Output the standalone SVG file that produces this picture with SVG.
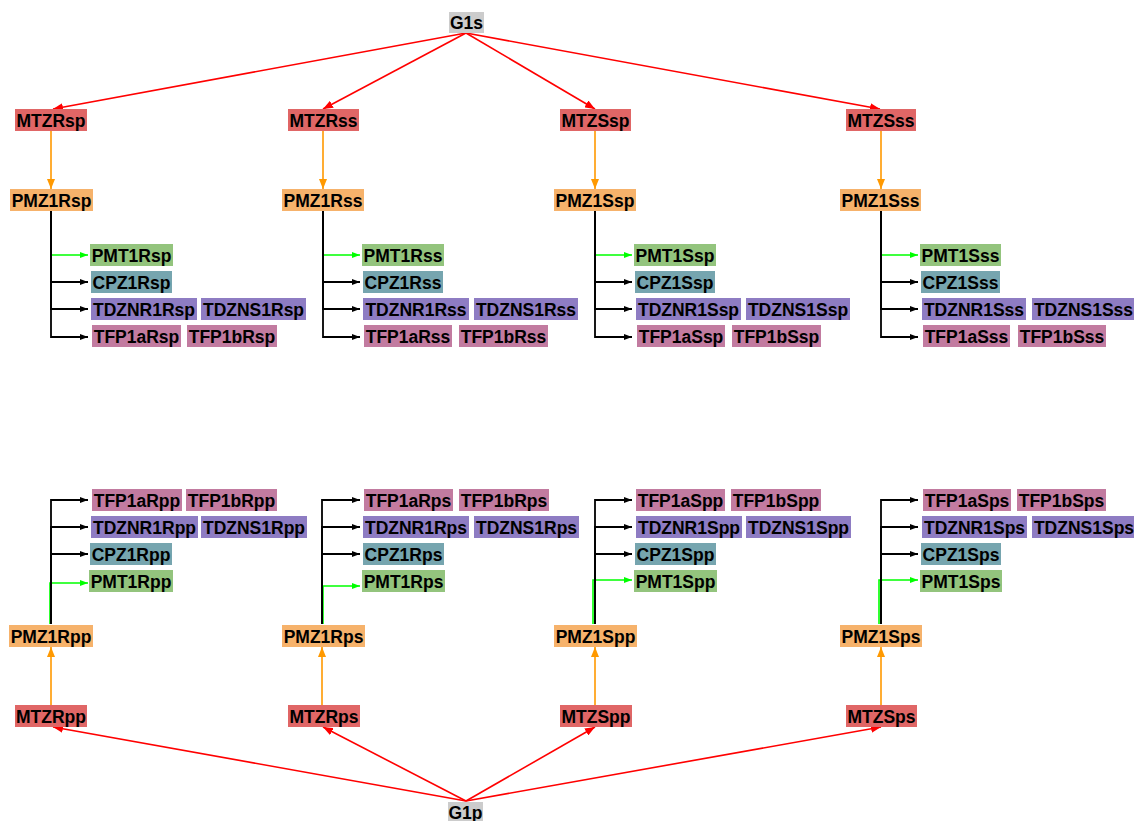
<svg xmlns="http://www.w3.org/2000/svg" width="1134" height="821" viewBox="0 0 1134 821">
<style>
text{font-family:"Liberation Sans",Arial,sans-serif;font-weight:bold;font-size:17.5px;fill:#000;text-anchor:middle}
.g{fill:#cccccc}.m{fill:#e06666}.z{fill:#f6b26b}.t{fill:#93c47d}.c{fill:#76a5af}.d{fill:#8e7cc3}.f{fill:#c27ba0}
.er{stroke:#ff0000;stroke-width:1.6;fill:none}
.eo{stroke:#ff9900;stroke-width:1.6;fill:none}
.eb{stroke:#000;stroke-width:1.8;fill:none}
.eg{stroke:#00ff00;stroke-width:1.6;fill:none}
</style>
<defs>
<marker id="ar" viewBox="0 0 10 8" markerWidth="10" markerHeight="8" refX="10" refY="4" orient="auto" markerUnits="userSpaceOnUse"><path d="M0,0L10,4L0,8z" fill="#ff0000"/></marker>
<marker id="ao" viewBox="0 0 10 8" markerWidth="10" markerHeight="8" refX="10" refY="4" orient="auto" markerUnits="userSpaceOnUse"><path d="M0,0L10,4L0,8z" fill="#ff9900"/></marker>
<marker id="ab" viewBox="0 0 8 6" markerWidth="8" markerHeight="6" refX="8" refY="3" orient="auto" markerUnits="userSpaceOnUse"><path d="M0,0L8,3L0,6z" fill="#000"/></marker>
<marker id="ag" viewBox="0 0 8 6" markerWidth="8" markerHeight="6" refX="8" refY="3" orient="auto" markerUnits="userSpaceOnUse"><path d="M0,0L8,3L0,6z" fill="#00ff00"/></marker>
</defs>
<g id="connectors">
<path class="er" marker-end="url(#ar)" d="M466,33L53,109"/>
<path class="er" marker-end="url(#ar)" d="M466,33L323,109"/>
<path class="er" marker-end="url(#ar)" d="M466,33L595,109"/>
<path class="er" marker-end="url(#ar)" d="M466,33L880,109"/>
<path class="er" marker-end="url(#ar)" d="M466,801L53,727"/>
<path class="er" marker-end="url(#ar)" d="M466,801L323,727"/>
<path class="er" marker-end="url(#ar)" d="M466,801L595,727"/>
<path class="er" marker-end="url(#ar)" d="M466,801L881,727"/>
<path class="eo" marker-end="url(#ao)" d="M51,131V189"/>
<path class="eo" marker-end="url(#ao)" d="M323,131V189"/>
<path class="eo" marker-end="url(#ao)" d="M595,131V189"/>
<path class="eo" marker-end="url(#ao)" d="M881,131V189"/>
<path class="eo" marker-end="url(#ao)" d="M51,705V647"/>
<path class="eo" marker-end="url(#ao)" d="M322,705V647"/>
<path class="eo" marker-end="url(#ao)" d="M595,705V647"/>
<path class="eo" marker-end="url(#ao)" d="M881,705V647"/>
<path class="eg" marker-end="url(#ag)" d="M51,211V255H88"/>
<path class="eb" marker-end="url(#ab)" d="M51,211V282H88"/>
<path class="eb" marker-end="url(#ab)" d="M51,211V309H88"/>
<path class="eb" marker-end="url(#ab)" d="M51,211V337H88"/>
<path class="eg" marker-end="url(#ag)" d="M323,211V255H360"/>
<path class="eb" marker-end="url(#ab)" d="M323,211V282H360"/>
<path class="eb" marker-end="url(#ab)" d="M323,211V309H360"/>
<path class="eb" marker-end="url(#ab)" d="M323,211V337H360"/>
<path class="eg" marker-end="url(#ag)" d="M595,211V255H632"/>
<path class="eb" marker-end="url(#ab)" d="M595,211V282H632"/>
<path class="eb" marker-end="url(#ab)" d="M595,211V309H632"/>
<path class="eb" marker-end="url(#ab)" d="M595,211V337H632"/>
<path class="eg" marker-end="url(#ag)" d="M881,211V255H918"/>
<path class="eb" marker-end="url(#ab)" d="M881,211V282H918"/>
<path class="eb" marker-end="url(#ab)" d="M881,211V309H918"/>
<path class="eb" marker-end="url(#ab)" d="M881,211V337H918"/>
<path class="eg" marker-end="url(#ag)" d="M50,624V583H88"/>
<path class="eb" marker-end="url(#ab)" d="M51,624V554H88"/>
<path class="eb" marker-end="url(#ab)" d="M51,624V527H88"/>
<path class="eb" marker-end="url(#ab)" d="M51,624V500H88"/>
<path class="eg" marker-end="url(#ag)" d="M323,624V586H360"/>
<path class="eb" marker-end="url(#ab)" d="M322,624V554H360"/>
<path class="eb" marker-end="url(#ab)" d="M322,624V527H360"/>
<path class="eb" marker-end="url(#ab)" d="M322,624V500H360"/>
<path class="eg" marker-end="url(#ag)" d="M593,624V580H632"/>
<path class="eb" marker-end="url(#ab)" d="M595,624V554H632"/>
<path class="eb" marker-end="url(#ab)" d="M595,624V527H632"/>
<path class="eb" marker-end="url(#ab)" d="M595,624V500H632"/>
<path class="eg" marker-end="url(#ag)" d="M879,624V580H918"/>
<path class="eb" marker-end="url(#ab)" d="M881,624V554H918"/>
<path class="eb" marker-end="url(#ab)" d="M881,624V527H918"/>
<path class="eb" marker-end="url(#ab)" d="M881,624V500H918"/>
</g>
<g id="G1s"><rect class="g" x="449" y="12" width="35" height="21"/><text x="466.5" y="29">G1s</text></g>
<g id="G1p"><rect class="g" x="448" y="802" width="35" height="22"/><text x="465.5" y="819">G1p</text></g>
<g id="MTZRsp"><rect class="m" x="15" y="109" width="72" height="22"/><text x="51" y="126.5">MTZRsp</text></g>
<g id="PMZ1Rsp"><rect class="z" x="10" y="189" width="83" height="22"/><text x="51.5" y="206.5">PMZ1Rsp</text></g>
<g id="PMT1Rsp"><rect class="t" x="90" y="244" width="83" height="22"/><text x="131.5" y="261.5">PMT1Rsp</text></g>
<g id="CPZ1Rsp"><rect class="c" x="91" y="271" width="81" height="22"/><text x="131.5" y="288.5">CPZ1Rsp</text></g>
<g id="TDZNR1Rsp"><rect class="d" x="91" y="298" width="106" height="22"/><text x="144" y="315.5">TDZNR1Rsp</text></g>
<g id="TDZNS1Rsp"><rect class="d" x="201" y="298" width="105" height="22"/><text x="253.5" y="315.5">TDZNS1Rsp</text></g>
<g id="TFP1aRsp"><rect class="f" x="92" y="325" width="89" height="22"/><text x="136.5" y="342.5">TFP1aRsp</text></g>
<g id="TFP1bRsp"><rect class="f" x="187" y="325" width="90" height="22"/><text x="232" y="342.5">TFP1bRsp</text></g>
<g id="MTZRss"><rect class="m" x="288" y="109" width="71" height="22"/><text x="323.5" y="126.5">MTZRss</text></g>
<g id="PMZ1Rss"><rect class="z" x="282" y="189" width="82" height="22"/><text x="323" y="206.5">PMZ1Rss</text></g>
<g id="PMT1Rss"><rect class="t" x="362" y="244" width="82" height="22"/><text x="403" y="261.5">PMT1Rss</text></g>
<g id="CPZ1Rss"><rect class="c" x="363" y="271" width="80" height="22"/><text x="403" y="288.5">CPZ1Rss</text></g>
<g id="TDZNR1Rss"><rect class="d" x="363" y="298" width="106" height="22"/><text x="416" y="315.5">TDZNR1Rss</text></g>
<g id="TDZNS1Rss"><rect class="d" x="474" y="298" width="104" height="22"/><text x="526" y="315.5">TDZNS1Rss</text></g>
<g id="TFP1aRss"><rect class="f" x="364" y="325" width="88" height="22"/><text x="408" y="342.5">TFP1aRss</text></g>
<g id="TFP1bRss"><rect class="f" x="459" y="325" width="89" height="22"/><text x="503.5" y="342.5">TFP1bRss</text></g>
<g id="MTZSsp"><rect class="m" x="560" y="109" width="71" height="22"/><text x="595.5" y="126.5">MTZSsp</text></g>
<g id="PMZ1Ssp"><rect class="z" x="554" y="189" width="82" height="22"/><text x="595" y="206.5">PMZ1Ssp</text></g>
<g id="PMT1Ssp"><rect class="t" x="634" y="244" width="82" height="22"/><text x="675" y="261.5">PMT1Ssp</text></g>
<g id="CPZ1Ssp"><rect class="c" x="635" y="271" width="80" height="22"/><text x="675" y="288.5">CPZ1Ssp</text></g>
<g id="TDZNR1Ssp"><rect class="d" x="636" y="298" width="105" height="22"/><text x="688.5" y="315.5">TDZNR1Ssp</text></g>
<g id="TDZNS1Ssp"><rect class="d" x="746" y="298" width="104" height="22"/><text x="798" y="315.5">TDZNS1Ssp</text></g>
<g id="TFP1aSsp"><rect class="f" x="637" y="325" width="88" height="22"/><text x="681" y="342.5">TFP1aSsp</text></g>
<g id="TFP1bSsp"><rect class="f" x="732" y="325" width="89" height="22"/><text x="776.5" y="342.5">TFP1bSsp</text></g>
<g id="MTZSss"><rect class="m" x="846" y="109" width="70" height="22"/><text x="881" y="126.5">MTZSss</text></g>
<g id="PMZ1Sss"><rect class="z" x="840" y="189" width="81" height="22"/><text x="880.5" y="206.5">PMZ1Sss</text></g>
<g id="PMT1Sss"><rect class="t" x="920" y="244" width="81" height="22"/><text x="960.5" y="261.5">PMT1Sss</text></g>
<g id="CPZ1Sss"><rect class="c" x="921" y="271" width="79" height="22"/><text x="960.5" y="288.5">CPZ1Sss</text></g>
<g id="TDZNR1Sss"><rect class="d" x="922" y="298" width="104" height="22"/><text x="974" y="315.5">TDZNR1Sss</text></g>
<g id="TDZNS1Sss"><rect class="d" x="1032" y="298" width="103" height="22"/><text x="1083.5" y="315.5">TDZNS1Sss</text></g>
<g id="TFP1aSss"><rect class="f" x="923" y="325" width="87" height="22"/><text x="966.5" y="342.5">TFP1aSss</text></g>
<g id="TFP1bSss"><rect class="f" x="1018" y="325" width="88" height="22"/><text x="1062" y="342.5">TFP1bSss</text></g>
<g id="MTZRpp"><rect class="m" x="15" y="705" width="72" height="22"/><text x="51" y="722.5">MTZRpp</text></g>
<g id="PMZ1Rpp"><rect class="z" x="9" y="625" width="84" height="22"/><text x="51" y="642.5">PMZ1Rpp</text></g>
<g id="PMT1Rpp"><rect class="t" x="89" y="570" width="84" height="22"/><text x="131" y="587.5">PMT1Rpp</text></g>
<g id="CPZ1Rpp"><rect class="c" x="90" y="543" width="82" height="22"/><text x="131" y="560.5">CPZ1Rpp</text></g>
<g id="TDZNR1Rpp"><rect class="d" x="91" y="516" width="107" height="22"/><text x="144.5" y="533.5">TDZNR1Rpp</text></g>
<g id="TDZNS1Rpp"><rect class="d" x="201" y="516" width="106" height="22"/><text x="254" y="533.5">TDZNS1Rpp</text></g>
<g id="TFP1aRpp"><rect class="f" x="92" y="489" width="90" height="22"/><text x="137" y="506.5">TFP1aRpp</text></g>
<g id="TFP1bRpp"><rect class="f" x="186" y="489" width="91" height="22"/><text x="231.5" y="506.5">TFP1bRpp</text></g>
<g id="MTZRps"><rect class="m" x="288" y="705" width="72" height="22"/><text x="324" y="722.5">MTZRps</text></g>
<g id="PMZ1Rps"><rect class="z" x="282" y="625" width="83" height="22"/><text x="323.5" y="642.5">PMZ1Rps</text></g>
<g id="PMT1Rps"><rect class="t" x="362" y="570" width="83" height="22"/><text x="403.5" y="587.5">PMT1Rps</text></g>
<g id="CPZ1Rps"><rect class="c" x="363" y="543" width="81" height="22"/><text x="403.5" y="560.5">CPZ1Rps</text></g>
<g id="TDZNR1Rps"><rect class="d" x="363" y="516" width="106" height="22"/><text x="416" y="533.5">TDZNR1Rps</text></g>
<g id="TDZNS1Rps"><rect class="d" x="474" y="516" width="105" height="22"/><text x="526.5" y="533.5">TDZNS1Rps</text></g>
<g id="TFP1aRps"><rect class="f" x="364" y="489" width="89" height="22"/><text x="408.5" y="506.5">TFP1aRps</text></g>
<g id="TFP1bRps"><rect class="f" x="459" y="489" width="90" height="22"/><text x="504" y="506.5">TFP1bRps</text></g>
<g id="MTZSpp"><rect class="m" x="560" y="705" width="72" height="22"/><text x="596" y="722.5">MTZSpp</text></g>
<g id="PMZ1Spp"><rect class="z" x="554" y="625" width="83" height="22"/><text x="595.5" y="642.5">PMZ1Spp</text></g>
<g id="PMT1Spp"><rect class="t" x="634" y="570" width="83" height="22"/><text x="675.5" y="587.5">PMT1Spp</text></g>
<g id="CPZ1Spp"><rect class="c" x="635" y="543" width="81" height="22"/><text x="675.5" y="560.5">CPZ1Spp</text></g>
<g id="TDZNR1Spp"><rect class="d" x="636" y="516" width="106" height="22"/><text x="689" y="533.5">TDZNR1Spp</text></g>
<g id="TDZNS1Spp"><rect class="d" x="746" y="516" width="105" height="22"/><text x="798.5" y="533.5">TDZNS1Spp</text></g>
<g id="TFP1aSpp"><rect class="f" x="636" y="489" width="89" height="22"/><text x="680.5" y="506.5">TFP1aSpp</text></g>
<g id="TFP1bSpp"><rect class="f" x="731" y="489" width="90" height="22"/><text x="776" y="506.5">TFP1bSpp</text></g>
<g id="MTZSps"><rect class="m" x="846" y="705" width="71" height="22"/><text x="881.5" y="722.5">MTZSps</text></g>
<g id="PMZ1Sps"><rect class="z" x="840" y="625" width="82" height="22"/><text x="881" y="642.5">PMZ1Sps</text></g>
<g id="PMT1Sps"><rect class="t" x="920" y="570" width="82" height="22"/><text x="961" y="587.5">PMT1Sps</text></g>
<g id="CPZ1Sps"><rect class="c" x="921" y="543" width="80" height="22"/><text x="961" y="560.5">CPZ1Sps</text></g>
<g id="TDZNR1Sps"><rect class="d" x="922" y="516" width="105" height="22"/><text x="974.5" y="533.5">TDZNR1Sps</text></g>
<g id="TDZNS1Sps"><rect class="d" x="1032" y="516" width="104" height="22"/><text x="1084" y="533.5">TDZNS1Sps</text></g>
<g id="TFP1aSps"><rect class="f" x="923" y="489" width="88" height="22"/><text x="967" y="506.5">TFP1aSps</text></g>
<g id="TFP1bSps"><rect class="f" x="1017" y="489" width="89" height="22"/><text x="1061.5" y="506.5">TFP1bSps</text></g>
</svg>
